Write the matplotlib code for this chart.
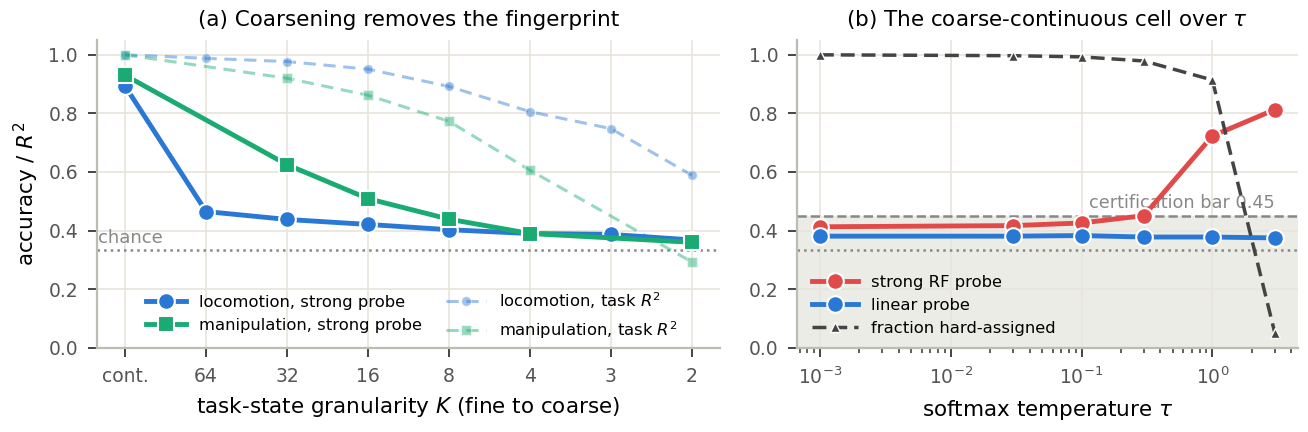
import numpy as np
import matplotlib.pyplot as plt

# --- data ---
K_LABELS = ["cont.", "64", "32", "16", "8", "4", "3", "2"]
loco_strong = [0.893, 0.465, 0.438, 0.421, 0.403, 0.390, 0.387, 0.368]
manip_strong = [0.930, np.nan, 0.625, 0.509, 0.439, 0.390, np.nan, 0.360]
loco_task = [1.000, 0.988, 0.977, 0.951, 0.892, 0.806, 0.748, 0.589]
manip_task = [1.000, np.nan, 0.920, 0.862, 0.773, 0.606, np.nan, 0.293]
CHANCE = 1 / 3

TAU = [1e-3, 0.03, 0.1, 0.3, 1.0, 3.0]
rf_probe = [0.413, 0.417, 0.426, 0.451, 0.723, 0.813]
lin_probe = [0.381, 0.381, 0.383, 0.378, 0.378, 0.375]
frac_hard = [1.000, 0.997, 0.993, 0.979, 0.914, 0.051]
CERT_BAR = 0.45

BLUE = "#2a78d6"
GREEN = "#1aab73"
RED = "#e24a4a"
DARK = "#444444"
GRID = "#e6e4dc"
SPINE = "#bdbcb2"

plt.rcParams.update({
    "font.family": "DejaVu Sans",
    "axes.edgecolor": SPINE,
    "axes.linewidth": 1.6,
    "axes.grid": True,
    "grid.color": GRID,
    "grid.linewidth": 1.2,
    "xtick.color": DARK,
    "ytick.color": DARK,
    "xtick.labelcolor": "#555555",
    "ytick.labelcolor": "#555555",
    "xtick.labelsize": 13.5,
    "ytick.labelsize": 13.5,
    "xtick.major.size": 6.5,
    "ytick.major.size": 6.5,
    "xtick.major.pad": 7,
    "ytick.major.pad": 7,
    "xtick.minor.size": 3.5,
    "xtick.major.width": 1.4,
    "ytick.major.width": 1.4,
    "xtick.minor.width": 1.2,
    "axes.labelsize": 15.5,
    "axes.titlesize": 15.5,
    "axes.labelpad": 7,
})


def plot_series(ax, x, y, **kw):
    x = np.asarray(x, dtype=float)
    y = np.asarray(y, dtype=float)
    ok = ~np.isnan(y)
    return ax.plot(x[ok], y[ok], **kw)


fig, (ax1, ax2) = plt.subplots(1, 2, figsize=(13.08, 4.32), dpi=100,
                               gridspec_kw={"width_ratios": [623, 500]})

# --- (a) ---
xs = np.arange(len(K_LABELS))
plot_series(ax1, xs, loco_task, color=BLUE, alpha=0.45, lw=2.2, ls=(0, (4, 2.5)),
            marker="o", ms=7, mec="white", mew=1, label="locomotion, task $R^2$", zorder=2)
plot_series(ax1, xs, manip_task, color=GREEN, alpha=0.45, lw=2.2, ls=(0, (4, 2.5)),
            marker="s", ms=7, mec="white", mew=1, label="manipulation, task $R^2$", zorder=2)
plot_series(ax1, xs, loco_strong, color=BLUE, lw=3.5, marker="o", ms=12,
            mec="white", mew=1.5, label="locomotion, strong probe", zorder=3)
plot_series(ax1, xs, manip_strong, color=GREEN, lw=3.5, marker="s", ms=12,
            mec="white", mew=1.5, label="manipulation, strong probe", zorder=4)
ax1.axhline(CHANCE, color="#888888", ls=":", lw=1.8, zorder=1)
ax1.set_xlim(-0.35, len(K_LABELS) - 0.65)
ax1.text(-0.34, CHANCE + 0.012, "chance", color="#888888", fontsize=13, va="bottom", ha="left")
ax1.set_xticks(xs)
ax1.set_xticklabels(K_LABELS)
ax1.set_ylim(0, 1.05)
ax1.set_yticks([0, 0.2, 0.4, 0.6, 0.8, 1.0])
ax1.set_xlabel("task-state granularity $K$ (fine to coarse)")
ax1.set_ylabel("accuracy / $R^2$", labelpad=5)
ax1.set_title("(a) Coarsening removes the fingerprint", pad=10)
h, l = ax1.get_legend_handles_labels()
order = [2, 3, 0, 1]
ax1.legend([h[i] for i in order], [l[i] for i in order], ncol=2, loc="lower center",
           bbox_to_anchor=(0.505, -0.025), frameon=False, fontsize=11.8,
           handlelength=2.4, columnspacing=1.5)

# --- (b) ---
ax2.set_xscale("log")
ax2.axhspan(0, CERT_BAR, color="#ecece6", zorder=0)
ax2.axhline(CERT_BAR, color="#888888", ls="--", lw=1.8, zorder=1)
ax2.axhline(CHANCE, color="#888888", ls=":", lw=1.8, zorder=1)
ax2.text(TAU[-1], CERT_BAR + 0.012, "certification bar 0.45", color="#888888",
         fontsize=12.8, ha="right", va="bottom")
ax2.plot(TAU, rf_probe, color=RED, lw=3.5, marker="o", ms=12, mec="white",
         mew=1.5, label="strong RF probe", zorder=3)
ax2.plot(TAU, lin_probe, color=BLUE, lw=3.5, marker="o", ms=12, mec="white",
         mew=1.5, label="linear probe", zorder=3)
ax2.plot(TAU, frac_hard, color=DARK, lw=2.5, ls=(0, (4, 2)), marker="^", ms=7,
         mec="white", mew=1, label="fraction hard-assigned", zorder=4)
ax2.set_ylim(0, 1.05)
ax2.set_yticks([0, 0.2, 0.4, 0.6, 0.8, 1.0])
ax2.set_xlabel("softmax temperature $\\tau$")
ax2.set_title("(b) The coarse-continuous cell over $\\tau$", pad=10)
ax2.legend(loc="lower left", bbox_to_anchor=(0.0, -0.01), frameon=False,
           fontsize=11.8, handlelength=2.8)

for ax in (ax1, ax2):
    ax.spines["top"].set_visible(False)
    ax.spines["right"].set_visible(False)
    ax.set_axisbelow(True)

fig.subplots_adjust(left=0.074, right=0.992, bottom=0.195, top=0.907, wspace=0.137)
fig.savefig("out.png")
